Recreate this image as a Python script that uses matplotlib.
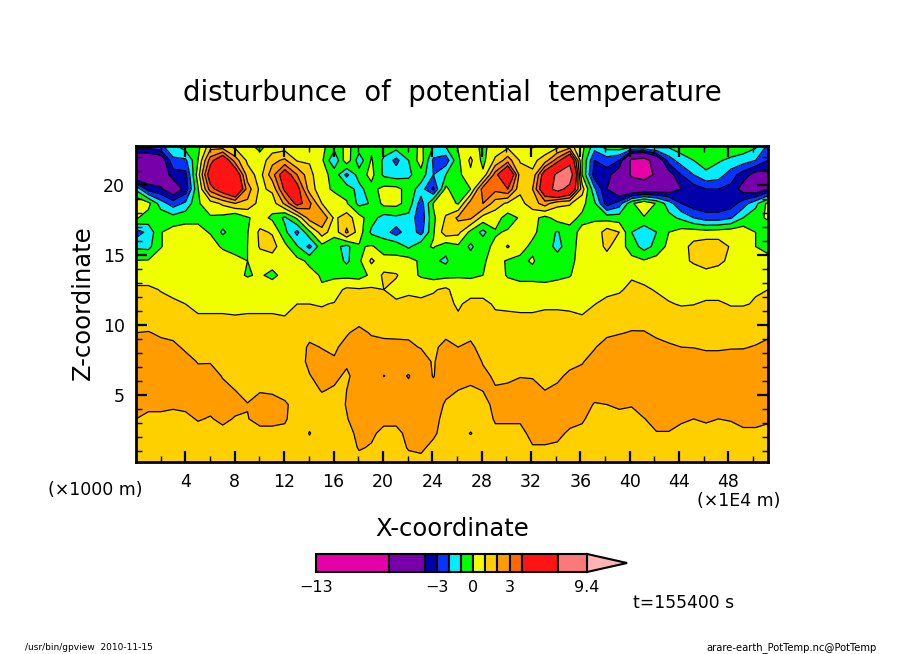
"""Disturbance of potential temperature, gpview style x-z section."""
import numpy as np
import matplotlib
matplotlib.use('Agg')
import matplotlib.pyplot as plt
from matplotlib.patches import Polygon

W, H = 904, 654

LEVELS = [-13, -7, -4, -3, -2, -1, 0, 1, 2, 3, 4, 7, 9.4]
COLORS = ['#E600A8', '#7800AA', '#0000AA', '#0A32FF', '#00EEFF', '#00FF00',
          '#F0FF00', '#FFD000', '#FF9C00', '#FF6A00', '#FF1414', '#FF7878']
OVER_COLOR = '#FFB4B4'
CBAR_TICKS = [-13, -3, 0, 3, 9.4]

X_MAX = 51.2
Z_MIN, Z_MAX = 0.2, 22.8

# field values, one list per height level (top of the section first)
r22 = [-2.5,-2.5,-2.2,-1.3,-0.4,-0.3, 1.5,1.2,0.7,0.2,-0.2,0.3,0.4, 0.1,0.1,0.2,-0.5,0.2,-0.4,-0.2, -0.4,-0.5,-0.5,0.2,-1.0,-0.9, 0.1,0.4,-0.2,0.4,0.7,0.4, -0.1,0.2,0.6,1.3,0.3, -1.5,-0.5,-0.3,-0.4,-0.4,-0.4,-0.8, -0.4,-0.3,-0.3,-0.3,-0.3,-0.4,-0.8,-2.2]
r21 = [-5.5,-5.5,-5,-2.2,-2.2,0, 3.5,5.5,2.5,0.8,0.3,1.7,2.2, 0.9,0.9,0.2,-1.9,0.7,-1.6,0.1, -1.2,-2.3,-1.0,0.5,-2.2,-2.6, -0.2,1.2,-0.3,1.2,2.5,0.9, 0.7,1.5,3.5,6,0, -3,-2.5,-3,-7.6,-8.2,-5.5,-2.5, -1.5,-1.0,-0.6,-0.9,-1.2,-1.5,-2,-3]
r20 = [-5.5,-5.2,-5,-3.5,-3.3,0.5, 5,6.5,5.5,1.5,0.6,2.6,5, 3,1.3,0.3,-0.3,-2.3,-0.5,0.3, -1.2,-1.5,-1.2,-0.4,-2.0,-1.0, -0.3,0.8,0.2,3.5,6.5,1.5, 1.2,5,7.5,9,0, -3.5,-3.5,-5,-7.3,-8,-6.6,-4.6, -3,-2,-1.2,-1.5,-2.5,-3.5,-4.5,-4.5]
r19 = [-1.2,-3.4,-3.8,-5,-3.6,-0.1, 3.5,5,6.5,2.5,0.8,1.2,4.3, 4.6,1.5,0.4,-0.2,-0.4,-1.4,-0.3, 0.3,0.3,-0.4,-1.5,-3.2,0.3, -1.0,0,3.5,3.3,4,1.2, 2,5.5,8,6,1.5, -1.8,-4,-5.5,-5.5,-5.2,-5,-4.8, -4,-3.5,-3,-3,-3.3,-4.5,-5,-4]
r18 = [0.9,0.3,-1.5,-2.5,-1.8,-0.1, 0.5,1.2,2,1.8,0.6,0.5,2.2, 4.5,3.3,1,0.7,0.1,-1.3,-0.9, 0.3,0.3,-0.4,-2.5,0.1,0.5, -0.1,2.5,3,1.5,0.8,0.7, 1.5,2.5,1.2,1.1,0.3, -0.8,-3.5,-2.5,-0.2,0.9,-0.1,-1.5, -3,-3.6,-3.8,-3.8,-3.5,-2.5,-1.3,0.3]
r17 = [0.1,-0.4,-0.3,-0.6,-0.3,-0.15, -0.1,-0.3,-0.9,-0.1,0.4,-0.2,-1.2, 0.2,2.5,3,0.8,1.5,0.4,-0.6, -1.4,-1.2,-1.3,-2.7,-0.2,1.1, 2.2,2.2,0.6,0.4,-0.4,0.1, 0.3,-0.3,0.4,0.3,-0.2, -0.1,-0.4,-0.5,-0.3,-0.1,-0.4,-0.7, -1.2,-2,-2.5,-2.5,-2.1,-1,-0.4,0.2]
r16 = [-2.5,-1.7,-0.05,0.4,0.4,0.2, -0.05,-1.2,-0.4,-0.05,1.2,0.9,-0.7, -2.3,-0.2,1.5,0.4,2.2,0.5,-1.2, -1.5,-2.5,-1.3,-2.4,-0.1,1.6, 1.3,-0.3,-1.3,-0.1,0.1,0.9, 0.2,-0.4,-1.1,-0.3,0.2, 0.3,1.5,1,-1,-1.8,-1,0, 0.4,0.5,0.4,0.5,0.6,0.7,0,-1]
r15 = [-1.2,-1.3,-0.05,0.4,0.5,0.5, 0.3,-0.1,-0.2,0,1.1,1.4,0.3, -0.9,-2.3,-0.3,-0.7,-1.3,-0.1,0.1, -0.4,-0.3,-1.2,-0.3,0.1,-0.6, -0.2,-1.2,-0.3,0.2,1.1,0.3, -0.2,-0.3,-1.4,-0.3,0.3, 0.5,1.2,0.5,-0.5,-1.4,-0.7,0.3, 0.6,1.3,1.6,1.5,0.9,0.7,0,-0.3]
r14 = [0.05,0.1,0.4,0.5,0.6,0.6, 0.6,0.4,0.15,0,0.5,0.5,0.6, 0.3,-0.2,-0.8,-0.4,-1.2,-0.2,1.2, 0.3,0.2,0.4,-0.2,-0.8,-1.2, -0.1,-0.5,-0.1,0.3,-0.1,-0.2, 0.1,-0.5,-0.4,-0.2,0.3, 0.6,0.6,0.5,0.3,0.1,0.4,0.6, 0.8,1.1,1.5,1.2,0.8,0.7,0.5,0.3]
r13 = [.5,.5,.6,.6,.7,.7, .7,.6,.3,-.1,.15,-.3,.4, .7,.3,-.1,-.2,-.3,-.4,.2, 1.2,1.1,.3,-.1,-.4,-.3, -.1,-.2,0,.5,-.1,-.3, -.3,-.4,-.2,-.05,.4, .7,.7,.7,.9,.8,.7,.7, .6,.6,.6,.6,.6,.6,.6,.6]
r12 = [1.2,1.2,.95,.85,.8,.8, .8,.8,.8,.7,.7,.7,.8, .85,.8,.1,.6,1.2,1.1,1.15, 1,.6,.8,.6,.9,1.2, .5,.7,.7,.6,.5,.4, .4,.4,.4,.4,.5, .8,.8,.9,1.2,1.1,.95,.8, .7,.7,.7,.7,.7,.8,.95,1.0]
r11 = [1.4,1.4,1.3,1.1,1,.9, .9,.9,.9,.9,.9,.9,.85, 1,1,.95,1.05,1.4,1.4,1.4, 1.3,1.2,1.3,1.3,1.3,1.2, .9,1.2,1.2,.9,.85,.85, .85,.9,.9,.9,.85, .98,1.2,1.3,1.5,1.4,1.2,1.05, .95,.98,1.1,1.1,.95,.95,1.05,1.2]
r10 = [1.5,1.5,1.35,1.25,1.15,1.05,1.05,1.05,1.03,1.05, 1.05,1.05,1.03,1.1,1.2,1.2,1.3,1.5,1.6,1.6, 1.5,1.4,1.5,1.5,1.5,1.3,1.1,1.45,1.3,1.15, 1.15,1.1,1.1,1.15,1.15,1.1,1.05,1.3,1.45,1.55, 1.7,1.65,1.5,1.35,1.3,1.3,1.3,1.3,1.3,1.3, 1.35,1.45]
r09 = [2.0,2.05,1.85,1.75,1.5,1.4,1.4,1.3,1.25,1.2, 1.2,1.2,1.2,1.2,1.6,1.6,1.7,1.9,2.3,1.9, 1.8,1.8,1.85,1.85,1.7,1.75,1.65,1.8,1.5,1.4, 1.4,1.4,1.35,1.35,1.4,1.45,1.5,1.7,1.85,1.95, 2.05,2.05,1.85,1.75,1.7,1.65,1.6,1.6,1.65,1.65, 1.7,1.85]
r08 = [2.4,2.4,2.3,2.2,1.85,1.7,1.7,1.5,1.4,1.3, 1.3,1.3,1.3,1.35,2.2,1.95,1.85,2.3,2.5,2.4, 2.3,2.25,2.15,1.95,1.8,2.3,2.0,2.15,1.7,1.6, 1.6,1.6,1.55,1.5,1.55,1.7,1.75,1.95,2.3,2.4, 2.45,2.4,2.25,2.1,2.0,1.98,1.9,1.9,1.95,1.95, 2.05,2.2]
r07 = [2.6,2.6,2.55,2.5,2.3,1.95,1.95,1.7,1.55,1.45, 1.45,1.4,1.4,1.5,2.25,2.4,2.1,2.15,2.5,2.4, 2.6,2.6,2.5,2.4,1.9,2.6,2.35,2.4,1.95,1.75, 1.75,1.75,1.75,1.7,1.75,1.85,1.95,2.25,2.5,2.6, 2.7,2.7,2.5,2.5,2.4,2.35,2.3,2.3,2.3,2.35, 2.4,2.5]
r06 = [2.6,2.6,2.6,2.5,2.45,2.25,2.3,1.95,1.8,1.6, 1.65,1.6,1.55,1.6,1.95,2.4,2.2,1.85,2.4,2.3, 3.02,2.75,3.05,2.5,1.95,2.6,2.4,2.2,2.15,1.9, 1.9,1.98,1.95,1.85,1.9,2.1,2.2,2.5,2.6,2.7, 2.7,2.7,2.7,2.7,2.6,2.6,2.6,2.6,2.6,2.6, 2.65,2.7]
r05 = [2.5,2.5,2.45,2.4,2.35,2.35,2.35,2.2,2.0,1.85, 1.95,1.9,1.75,1.7,1.7,2.05,1.9,2.0,2.4,2.5, 2.7,2.8,2.8,2.8,2.3,2.3,2.0,1.9,2.02,2.05, 2.1,2.15,2.2,2.0,2.1,2.3,2.3,2.3,2.4,2.5, 2.5,2.55,2.6,2.6,2.5,2.5,2.5,2.5,2.5,2.5, 2.5,2.6]
r04 = [2.3,2.15,2.15,2.1,2.15,2.25,2.2,2.3,2.2,2.02, 2.25,2.25,2.1,1.75,1.4,1.7,1.6,2.05,2.5,2.5, 2.6,2.6,2.6,2.8,2.6,1.85,1.7,1.6,1.75,2.2, 2.25,2.25,2.3,2.2,2.3,2.3,2.3,1.95,2.0,2.1, 2.05,2.3,2.4,2.4,2.3,2.3,2.3,2.3,2.3,2.35, 2.35,2.4]
r03 = [2.0,1.85,1.85,1.8,1.85,2.05,1.95,2.15,1.95,1.98, 2.15,2.15,2.1,1.6,1.2,1.3,1.4,1.95,2.4,2.3, 2.3,2.3,2.4,2.4,2.4,1.6,1.5,1.5,1.55,2.1, 2.1,2.1,2.3,2.3,2.3,2.2,2.1,1.7,1.7,1.8, 1.75,1.98,2.2,2.2,2.1,2.0,2.1,2.0,2.05,2.15, 2.15,2.1]
r02 = [1.7,1.65,1.65,1.6,1.6,1.75,1.65,1.8,1.7,1.7, 1.85,1.85,1.8,1.4,0.97,1.3,1.35,1.6,2.3,2.2, 1.7,1.7,2.3,2.3,2.2,1.5,1.45,0.95,1.45,1.8, 1.8,1.8,2.2,2.2,2.15,1.9,1.8,1.5,1.5,1.6, 1.55,1.7,1.97,1.97,1.8,1.7,1.75,1.7,1.75,1.9, 1.9,1.8]
r01 = [1.5,1.5,1.5,1.5,1.5,1.5,1.5,1.5,1.5,1.45, 1.5,1.5,1.5,1.4,1.2,1.3,1.4,1.4,2.1,1.9, 1.5,1.5,2.1,2.2,1.7,1.4,1.4,1.4,1.4,1.5, 1.5,1.5,1.95,1.95,1.9,1.6,1.5,1.4,1.4,1.4, 1.4,1.5,1.6,1.6,1.5,1.5,1.5,1.5,1.5,1.55, 1.55,1.5]
r00 = [1.4,1.4,1.4,1.4,1.4,1.4,1.4,1.4,1.4,1.4, 1.4,1.4,1.4,1.4,1.4,1.4,1.4,1.4,1.6,1.4, 1.4,1.4,1.6,1.7,1.4,1.4,1.4,1.4,1.4,1.4, 1.4,1.4,1.5,1.5,1.5,1.4,1.4,1.4,1.4,1.4, 1.4,1.4,1.4,1.4,1.4,1.4,1.4,1.4,1.4,1.4, 1.4,1.4]

ROWS = [r00, r01, r02, r03, r04, r05, r06, r07, r08, r09, r10, r11,
        r12, r13, r14, r15, r16, r17, r18, r19, r20, r21, r22]

field = np.array(ROWS, dtype=float)
x = np.linspace(0, X_MAX, field.shape[1])
z = np.linspace(Z_MIN, Z_MAX, field.shape[0])


def px_axes(fig, left, top, right, bottom):
    """Axes placed by pixel edges of the picture (y counted from the top)."""
    return fig.add_axes([left / W, 1 - bottom / H, (right - left) / W, (bottom - top) / H])


def px_text(fig, px, py, s, **kw):
    kw.setdefault('ha', 'center')
    kw.setdefault('va', 'center')
    fig.text(px / W, 1 - py / H, s, **kw)


fig = plt.figure(figsize=(W / 100, H / 100), dpi=100, facecolor='white')

# main section
ax = px_axes(fig, 136, 146, 768, 462)
ax.contourf(x, z, field, levels=LEVELS, colors=COLORS + [OVER_COLOR], extend='max')
ax.contour(x, z, field, levels=LEVELS, colors='black', linewidths=0.9, linestyles='solid')
ax.set_xlim(0, X_MAX)
ax.set_ylim(Z_MIN, Z_MAX)
ax.set_xticks(np.arange(4, 49, 4))
ax.set_xticks(np.arange(2, 51, 4), minor=True)
ax.set_yticks([5, 10, 15, 20])
ax.set_yticks([z_t for z_t in range(1, 23) if z_t % 5], minor=True)
ax.tick_params(which='major', direction='in', top=True, right=True, length=8, width=1.6,
               labelsize=12.5, pad=8)
ax.tick_params(which='minor', direction='in', top=True, right=True, length=4, width=1)
for sp in ax.spines.values():
    sp.set_linewidth(2)

px_text(fig, 452, 93, 'disturbunce  of  potential  temperature', fontsize=19.8)
px_text(fig, 452, 529, 'X-coordinate', fontsize=17.5)
px_text(fig, 83, 303, 'Z-coordinate', fontsize=17.5, rotation=90)
px_text(fig, 95, 490, '(\u00d71000 m)', fontsize=12.5)
px_text(fig, 739, 501, '(\u00d71E4 m)', fontsize=12.5)

# colour bar, 12.1 pixels per unit
cax = px_axes(fig, 316, 554, 630, 572)
cax.set_xlim(LEVELS[0], LEVELS[0] + (630 - 316) / 12.1)
cax.set_ylim(0, 1)
cax.axis('off')
cax.barh(0.5, np.diff(LEVELS), left=LEVELS[:-1], height=1, color=COLORS,
         edgecolor='black', linewidth=1.5, clip_on=False)
tip = LEVELS[-1] + 40 / 12.1
cax.add_patch(Polygon([(LEVELS[-1], 0), (LEVELS[-1], 1), (tip, 0.5)], closed=True,
                      facecolor=OVER_COLOR, edgecolor='black', linewidth=1.5, clip_on=False))
for t in CBAR_TICKS:
    cax.annotate(str(t).replace('-', '\u2212'), (t, 0), xytext=(0, -15),
                 textcoords='offset pixels', ha='center', va='center', fontsize=11.5)

px_text(fig, 684, 603, 't=155400 s', fontsize=12.3)
px_text(fig, 25, 648, '/usr/bin/gpview  2010-11-15', fontsize=6.5, ha='left')
px_text(fig, 877, 648, 'arare-earth_PotTemp.nc@PotTemp', fontsize=7.2, ha='right')

fig.savefig('out.png', dpi=100)
